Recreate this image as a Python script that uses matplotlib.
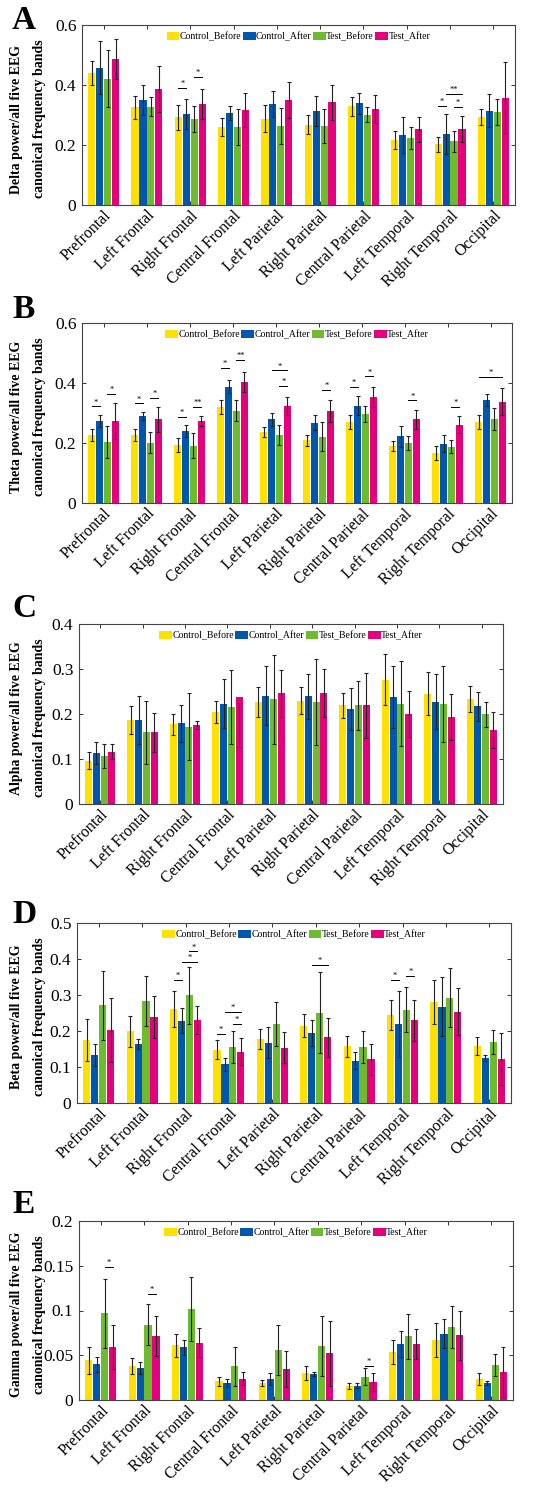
import matplotlib
matplotlib.use('Agg')
import matplotlib.pyplot as plt
import matplotlib.transforms as mtransforms
import numpy as np

plt.rcParams['font.family'] = 'serif'
plt.rcParams['font.serif'] = ['Liberation Serif', 'DejaVu Serif']

regions = ['Prefrontal', 'Left Frontal', 'Right Frontal', 'Central Frontal',
           'Left Parietal', 'Right Parietal', 'Central Parietal',
           'Left Temporal', 'Right Temporal', 'Occipital']
groups = ['Control_Before', 'Control_After', 'Test_Before', 'Test_After']
colors = ['#FFE100', '#0057AE', '#6DBB2E', '#E6007E']

# rows: Control_Before, Control_After, Test_Before, Test_After
delta_mean = [[0.439, 0.326, 0.293, 0.260, 0.287, 0.268, 0.329, 0.216, 0.203, 0.293],
              [0.458, 0.350, 0.303, 0.306, 0.337, 0.314, 0.339, 0.234, 0.236, 0.314],
              [0.421, 0.328, 0.286, 0.260, 0.263, 0.263, 0.301, 0.224, 0.212, 0.310],
              [0.486, 0.386, 0.338, 0.317, 0.350, 0.342, 0.320, 0.252, 0.253, 0.358]]
delta_sd = [[0.040, 0.038, 0.042, 0.029, 0.045, 0.031, 0.032, 0.030, 0.025, 0.026],
            [0.088, 0.050, 0.050, 0.024, 0.043, 0.051, 0.035, 0.060, 0.066, 0.055],
            [0.095, 0.033, 0.043, 0.059, 0.059, 0.056, 0.025, 0.036, 0.035, 0.043],
            [0.067, 0.077, 0.050, 0.057, 0.060, 0.058, 0.048, 0.042, 0.044, 0.118]]
# (region, bar from, bar to, height, label)
delta_sig = [(2, 0, 1, 0.389, '*'), (2, 2, 3, 0.426, '*'),
             (8, 0, 1, 0.330, '*'), (8, 1, 3, 0.369, '**'), (8, 2, 3, 0.328, '*')]

theta_mean = [[0.227, 0.226, 0.194, 0.320, 0.237, 0.209, 0.269, 0.189, 0.167, 0.270],
              [0.274, 0.289, 0.240, 0.388, 0.279, 0.268, 0.324, 0.222, 0.198, 0.343],
              [0.203, 0.201, 0.191, 0.308, 0.227, 0.221, 0.296, 0.200, 0.188, 0.280],
              [0.273, 0.279, 0.274, 0.403, 0.324, 0.307, 0.353, 0.279, 0.261, 0.337]]
theta_sd = [[0.020, 0.020, 0.023, 0.024, 0.017, 0.018, 0.024, 0.017, 0.023, 0.023],
            [0.020, 0.013, 0.020, 0.022, 0.021, 0.026, 0.032, 0.034, 0.028, 0.020],
            [0.052, 0.036, 0.042, 0.036, 0.033, 0.048, 0.027, 0.022, 0.023, 0.037],
            [0.059, 0.041, 0.016, 0.033, 0.030, 0.037, 0.034, 0.032, 0.029, 0.045]]
theta_sig = [(0, 0, 1, 0.322, '*'), (0, 2, 3, 0.363, '*'),
             (1, 0, 1, 0.332, '*'), (1, 2, 3, 0.350, '*'),
             (2, 0, 1, 0.286, '*'), (2, 2, 3, 0.319, '**'),
             (3, 0, 1, 0.450, '*'), (3, 2, 3, 0.478, '**'),
             (4, 1, 3, 0.442, '*'), (4, 2, 3, 0.390, '*'),
             (5, 2, 3, 0.378, '*'),
             (6, 0, 1, 0.388, '*'), (6, 2, 3, 0.422, '*'),
             (7, 2, 3, 0.342, '*'),
             (8, 2, 3, 0.319, '*'),
             (9, 0, 3, 0.420, '*')]

alpha_mean = [[0.096, 0.187, 0.177, 0.204, 0.227, 0.230, 0.219, 0.276, 0.245, 0.233],
              [0.113, 0.187, 0.179, 0.223, 0.241, 0.239, 0.211, 0.238, 0.227, 0.217],
              [0.106, 0.159, 0.172, 0.216, 0.233, 0.227, 0.219, 0.223, 0.222, 0.199],
              [0.116, 0.159, 0.175, 0.237, 0.246, 0.247, 0.219, 0.200, 0.193, 0.164]]
alpha_sd = [[0.019, 0.031, 0.023, 0.025, 0.033, 0.030, 0.028, 0.057, 0.048, 0.029],
            [0.024, 0.054, 0.042, 0.055, 0.066, 0.050, 0.047, 0.068, 0.061, 0.033],
            [0.027, 0.069, 0.074, 0.082, 0.099, 0.095, 0.054, 0.095, 0.084, 0.027],
            [0.017, 0.044, 0.009, 0.049, 0.052, 0.053, 0.073, 0.052, 0.051, 0.040]]
# one error bar in the reference is not centred on its bar
alpha_err_centre = {(3, 3): 0.176}
alpha_sig = []

beta_mean = [[0.175, 0.199, 0.261, 0.148, 0.178, 0.215, 0.157, 0.245, 0.281, 0.157],
             [0.134, 0.164, 0.229, 0.108, 0.168, 0.195, 0.118, 0.220, 0.268, 0.125],
             [0.271, 0.284, 0.299, 0.155, 0.219, 0.251, 0.156, 0.259, 0.293, 0.169],
             [0.202, 0.239, 0.231, 0.143, 0.153, 0.183, 0.121, 0.230, 0.254, 0.123]]
beta_sd = [[0.058, 0.043, 0.049, 0.027, 0.028, 0.033, 0.029, 0.041, 0.062, 0.025],
           [0.030, 0.014, 0.034, 0.018, 0.042, 0.036, 0.024, 0.092, 0.081, 0.007],
           [0.095, 0.070, 0.080, 0.045, 0.062, 0.113, 0.045, 0.063, 0.083, 0.034],
           [0.089, 0.058, 0.038, 0.038, 0.043, 0.054, 0.044, 0.057, 0.065, 0.072]]
beta_sig = [(2, 0, 1, 0.343, '*'), (2, 1, 3, 0.392, '*'), (2, 2, 3, 0.421, '*'),
            (3, 0, 1, 0.192, '*'), (3, 1, 3, 0.253, '*'), (3, 2, 3, 0.219, '*'),
            (5, 1, 3, 0.384, '*'),
            (7, 0, 1, 0.343, '*'), (7, 2, 3, 0.352, '*')]

gamma_mean = [[0.0446, 0.0379, 0.0613, 0.0208, 0.0186, 0.0301, 0.0160, 0.0535, 0.0673, 0.0234],
              [0.0398, 0.0353, 0.0587, 0.0190, 0.0234, 0.0290, 0.0160, 0.0625, 0.0740, 0.0190],
              [0.0967, 0.0840, 0.1015, 0.0375, 0.0558, 0.0599, 0.0260, 0.0710, 0.0814, 0.0390],
              [0.0587, 0.0717, 0.0640, 0.0238, 0.0350, 0.0520, 0.0200, 0.0625, 0.0721, 0.0312]]
gamma_sd = [[0.0150, 0.0090, 0.0130, 0.0052, 0.0033, 0.0078, 0.0033, 0.0134, 0.0190, 0.0063],
            [0.0080, 0.0067, 0.0080, 0.0044, 0.0063, 0.0020, 0.0030, 0.0150, 0.0160, 0.0026],
            [0.0390, 0.0230, 0.0360, 0.0216, 0.0275, 0.0334, 0.0093, 0.0250, 0.0234, 0.0123],
            [0.0246, 0.0220, 0.0160, 0.0074, 0.0200, 0.0360, 0.0100, 0.0167, 0.0270, 0.0280]]
gamma_sig = [(0, 2, 3, 0.149, '*'), (1, 2, 3, 0.118, '*'), (6, 2, 3, 0.0383, '*')]

panels = [
    ('A', 'Delta', delta_mean, delta_sd, delta_sig, {}, [0, 0.2, 0.4, 0.6], ['0', '0.2', '0.4', '0.6']),
    ('B', 'Theta', theta_mean, theta_sd, theta_sig, {}, [0, 0.2, 0.4, 0.6], ['0', '0.2', '0.4', '0.6']),
    ('C', 'Alpha', alpha_mean, alpha_sd, alpha_sig, alpha_err_centre,
     [0, 0.1, 0.2, 0.3, 0.4], ['0', '0.1', '0.2', '0.3', '0.4']),
    ('D', 'Beta', beta_mean, beta_sd, beta_sig, {},
     [0, 0.1, 0.2, 0.3, 0.4, 0.5], ['0', '0.1', '0.2', '0.3', '0.4', '0.5']),
    ('E', 'Gamma', gamma_mean, gamma_sd, gamma_sig, {},
     [0, 0.05, 0.1, 0.15, 0.2], ['0', '0.05', '0.1', '0.15', '0.2']),
]

# axes boxes in pixels: left, right, top, bottom, and panel letter baseline
boxes = [(82, 515, 25, 205, 29), (82, 512, 323, 503, 318), (79, 503, 624, 804, 617),
         (77, 511, 923, 1103, 923), (79, 513, 1221, 1400, 1213)]

W, H = 550, 1496
fig = plt.figure(figsize=(W / 100, H / 100), dpi=100)

x = np.arange(1, len(regions) + 1)
step = 0.183
bw = 0.165

for (letter, band, mean, sd, sig, err_c, yt, ytl), (l, r, t, b, lb) in zip(panels, boxes):
    ax = fig.add_axes([l / W, (H - b) / H, (r - l) / W, (b - t) / H])
    for i in range(4):
        xs = x + (i - 1.5) * step
        ax.bar(xs, mean[i], width=bw, color=colors[i], edgecolor='none',
               label=groups[i], zorder=2)
        centre = [err_c.get((j, i), mean[i][j]) for j in range(len(regions))]
        ax.errorbar(xs, centre, yerr=sd[i], fmt='none', ecolor='#222222',
                    elinewidth=0.8, capsize=1.5, capthick=0.8, zorder=3)
    for (g, i, j, yy, lab) in sig:
        x0 = x[g] + (i - 1.5) * step
        x1 = x[g] + (j - 1.5) * step
        ax.plot([x0, x1], [yy, yy], color='black', lw=0.7, zorder=4)
        ax.text((x0 + x1) / 2, yy, lab, ha='center', va='bottom', fontsize=6)

    ax.set_xlim(0.5, 10.5)
    ax.set_ylim(yt[0], yt[-1])
    ax.set_yticks(yt)
    ax.set_yticklabels(ytl)
    ax.set_xticks(x)
    ax.set_xticklabels(regions, rotation=45, ha='right', rotation_mode='anchor')
    off = mtransforms.ScaledTranslation(0.09, -0.07, fig.dpi_scale_trans)
    for lab_ in ax.get_xticklabels():
        lab_.set_transform(lab_.get_transform() + off)
    ax.tick_params(axis='both', direction='in', top=True, right=True, length=3,
                   width=0.7, color='#333333')
    ax.tick_params(axis='y', labelsize=12.5, pad=4)
    ax.tick_params(axis='x', labelsize=11.5, pad=2)
    for s in ax.spines.values():
        s.set_color('#444444')
        s.set_linewidth(0.8)
    fig.text(28 / W, (H - (t + b) / 2 - 4) / H,
             band + ' power/all five EEG\ncanonical frequency bands',
             rotation=90, ha='center', va='center', multialignment='center',
             fontsize=10, fontweight='bold', linespacing=1.95)
    ax.legend(loc='upper center', ncol=4, frameon=False, fontsize=7,
              handlelength=1.3, handleheight=0.8, handletextpad=0.05,
              columnspacing=0.15, borderaxespad=0.3)
    fig.text(12 / W, (H - lb) / H, letter, fontsize=24, fontweight='bold',
             va='baseline', ha='left')

fig.savefig('out.png', dpi=100)
